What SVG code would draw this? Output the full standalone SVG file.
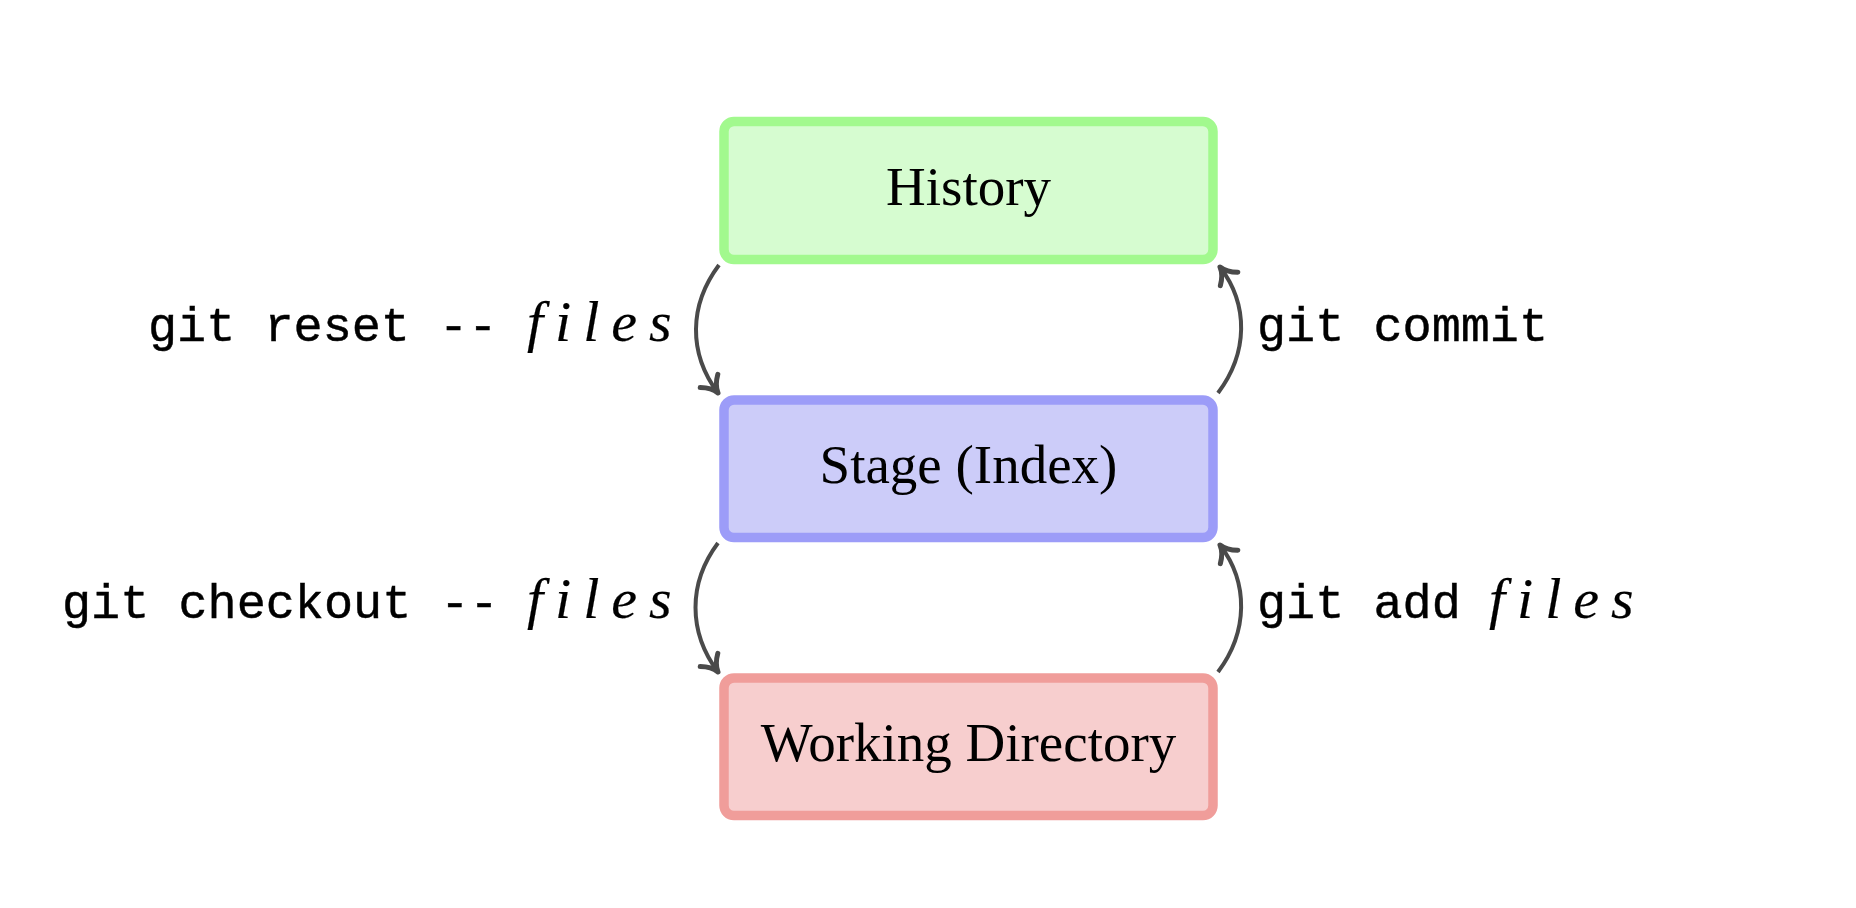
<svg xmlns="http://www.w3.org/2000/svg" width="1856" height="908" viewBox="0 0 1856 908">
  <style>
    .box { stroke-width: 9.5; }
    .label { font-family: "Liberation Serif", "DejaVu Serif", serif; font-size: 55px; fill: #000; text-anchor: middle; }
    .tt { font-family: "Liberation Mono", "DejaVu Sans Mono", monospace; font-size: 48.5px; fill: #000; stroke: #000; stroke-width: 0.45; }
    .it { font-family: "Liberation Serif", "DejaVu Serif", serif; font-style: italic; font-size: 58px; letter-spacing: 12px; stroke-width: 0.2; }
    .conn { fill: none; stroke: #4a4a4a; stroke-width: 4; marker-end: url(#arrow); }
  </style>
  <defs>
    <marker id="arrow" markerUnits="userSpaceOnUse" markerWidth="40" markerHeight="40" viewBox="-20 -20 40 40" refX="0" refY="0" orient="auto">
      <path d="M -15,-11 C -10,-4.5 -4,-1 0,0 C -4,1 -10,4.5 -15,11" fill="none" stroke="#4a4a4a" stroke-width="5" stroke-linecap="round" stroke-linejoin="round"/>
    </marker>
  </defs>
  <rect width="1856" height="908" fill="#ffffff"/>

  <g id="history">
    <rect class="box" x="724" y="121.5" width="489" height="138" rx="10" ry="10" fill="#d6fcd0" stroke="#a2f98e"/>
    <text class="label" x="968.5" y="204.5">History</text>
  </g>
  <g id="stage">
    <rect class="box" x="724" y="400" width="489" height="137.5" rx="10" ry="10" fill="#ccccf9" stroke="#9c9cf8"/>
    <text class="label" x="968.5" y="482.5">Stage (Index)</text>
  </g>
  <g id="working-directory">
    <rect class="box" x="724" y="678" width="489" height="137.5" rx="10" ry="10" fill="#f7cece" stroke="#f09d9a"/>
    <text class="label" x="968.5" y="761">Working Directory</text>
  </g>

  <g id="connectors">
    <path class="conn" d="M 719,265 C 689,305 688,353 718,393"/>
    <path class="conn" d="M 1218,393 C 1248,353 1249,305 1220,267"/>
    <path class="conn" d="M 718,543 C 688,583 688,632 718,672"/>
    <path class="conn" d="M 1218,672 C 1248,632 1249,583 1220,545"/>
  </g>

  <g id="label-reset">
    <text class="tt" x="148" y="341">git reset --<tspan class="it" x="527">files</tspan></text>
  </g>
  <g id="label-commit">
    <text class="tt" x="1257" y="341">git commit</text>
  </g>
  <g id="label-checkout">
    <text class="tt" x="62" y="618">git checkout --<tspan class="it" x="527">files</tspan></text>
  </g>
  <g id="label-add">
    <text class="tt" x="1257" y="618">git add<tspan class="it" x="1489">files</tspan></text>
  </g>
</svg>
